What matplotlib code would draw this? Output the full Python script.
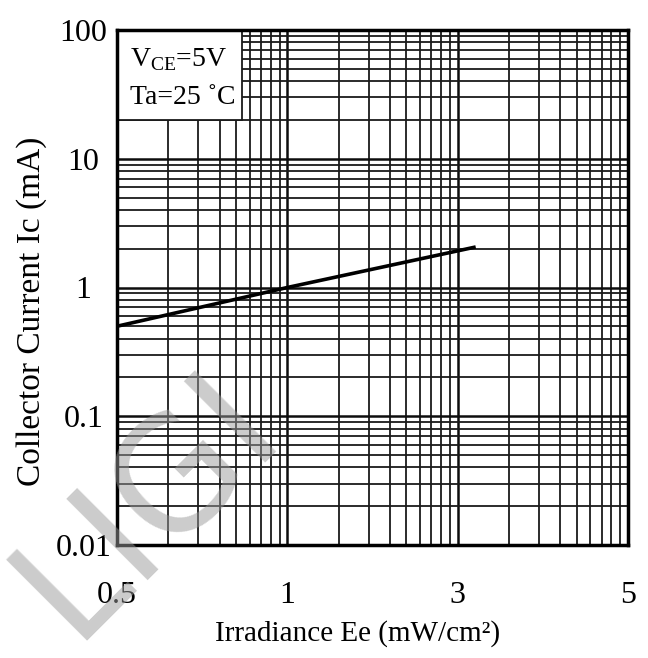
import numpy as np
import matplotlib
matplotlib.use('Agg')
import matplotlib.pyplot as plt
from matplotlib.ticker import FixedLocator, LogLocator, NullFormatter
from matplotlib.patches import Rectangle

# 坐标刻度（原图横轴每段按一个对数十倍程画格）
x_ticks = [0.5, 1, 3, 5]
x_tick_labels = ['0.5', '1', '3', '5']
y_ticks = [0.01, 0.1, 1, 10, 100]
y_tick_labels = ['0.01', '0.1', '1', '10', '100']

# 曲线：Ic - Ee
ee = [0.5, 1.0, 3.15]
ic = [0.5, 1.0, 2.05]

plt.rcParams['font.family'] = ['Liberation Serif', 'DejaVu Serif']
plt.rcParams['mathtext.fontset'] = 'custom'
plt.rcParams['mathtext.rm'] = 'Liberation Serif'

seg_pos = np.arange(len(x_ticks), dtype=float)
log_ticks = np.log10(x_ticks)


def forward(x):
    with np.errstate(divide='ignore', invalid='ignore'):
        lx = np.log10(np.asarray(x, dtype=float))
    return np.interp(lx, log_ticks, seg_pos)


def inverse(p):
    return 10 ** np.interp(np.asarray(p, dtype=float), seg_pos, log_ticks)


fig = plt.figure(figsize=(6.48, 6.58), dpi=100)
ax = fig.add_axes([117 / 648, 1 - 545 / 658, 511 / 648, 515 / 658])

ax.set_xscale('function', functions=(forward, inverse))
ax.set_yscale('log')
ax.set_xlim(0.5, 5)
ax.set_ylim(0.01, 100)

# 网格
minor_pos = [s + np.log10(k) for s in range(3) for k in range(2, 10)]
ax.xaxis.set_major_locator(FixedLocator(x_ticks))
ax.xaxis.set_minor_locator(FixedLocator(inverse(minor_pos)))
ax.xaxis.set_minor_formatter(NullFormatter())
ax.set_xticklabels(x_tick_labels)
ax.yaxis.set_major_locator(FixedLocator(y_ticks))
ax.yaxis.set_minor_locator(LogLocator(base=10, subs=np.arange(2, 10)))
ax.yaxis.set_minor_formatter(NullFormatter())
ax.set_yticklabels(y_tick_labels)

ax.grid(which='major', color='0.05', lw=1.8)
ax.grid(which='minor', color='0.1', lw=1.3)
ax.tick_params(which='both', length=0)
ax.tick_params(axis='y', labelsize=23, pad=24)
ax.tick_params(axis='x', labelsize=23, pad=26)
for lab in ax.get_yticklabels():
    lab.set_horizontalalignment('center')

for sp in ax.spines.values():
    sp.set_linewidth(2.5)
    sp.set_color('black')

ax.plot(ee, ic, color='black', lw=2.6, zorder=3)

# 条件说明框
ax.add_patch(Rectangle((0, 0.825), 0.245, 0.175, transform=ax.transAxes,
                       facecolor='white', edgecolor='0.1', lw=1.3, zorder=2))
ax.text(0.025, 0.942, r'V$_{\mathrm{CE}}$=5V', transform=ax.transAxes,
        fontsize=20, va='center', ha='left', zorder=4)
ax.text(0.025, 0.868, 'Ta=25 \u02daC', transform=ax.transAxes,
        fontsize=20, va='center', ha='left', zorder=4)

ax.set_xlabel('Irradiance Ee (mW/cm\u00b2)', fontsize=21)
ax.set_ylabel('Collector Current Ic (mA)', fontsize=24)
ax.xaxis.set_label_coords(0.4716, -0.146)
ax.yaxis.set_label_coords(-0.137, 0.454)

# 水印
fig.text(148 / 648, 1 - 505 / 658, 'LIGI', rotation=45, fontsize=112,
         color='#999999', alpha=0.5, ha='center', va='center',
         family='DejaVu Sans', zorder=10)

fig.savefig('out.png', dpi=100)
